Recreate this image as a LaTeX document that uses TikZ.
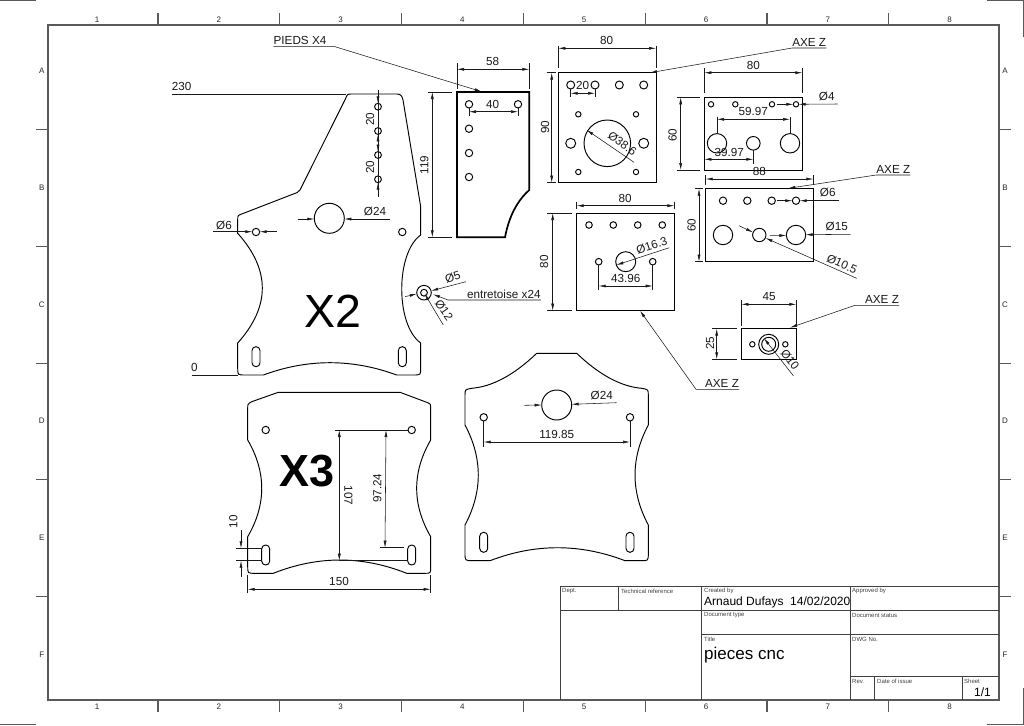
\documentclass[tikz,border=0pt]{standalone}
\usepackage{fontspec}
\setmainfont{Liberation Sans}
\usetikzlibrary{arrows.meta}
\tikzset{
  part/.style={line width=.95pt},
  heavy/.style={line width=1.7pt},
  frame/.style={line width=1.1pt, black!65},
  block/.style={line width=1pt, black!75},
  dim/.style={line width=.55pt, black!90, >={Latex[length=7pt,width=3pt]}},
  dimlab/.style={inner sep=0pt, font=\fontsize{11.7}{13}\selectfont, black!90},
  leadlab/.style={inner xsep=0pt, inner ysep=1.5pt, anchor=south, font=\fontsize{11.7}{13}\selectfont, black!90},
  zone/.style={inner sep=0pt, font=\fontsize{8}{9}\selectfont, black!85},
  tiny/.style={inner sep=0pt, anchor=west, font=\fontsize{6}{7}\selectfont, black!75},
  titletext/.style={inner sep=0pt, anchor=west}
}
\begin{document}
\begin{tikzpicture}[x=1pt, y=-1pt]
  \useasboundingbox (0,0) rectangle (1024,725);

  % sheet frame and zones
  \draw [frame] (48,25) rectangle (999,700);
  \foreach \i in {0,...,6} {
    \draw [frame] (158+121.8*\i,25) -- ++(0,-12);
    \draw [frame] (158+121.8*\i,700) -- ++(0,12);
  }
  \foreach \i in {0,...,4} {
    \draw [frame] (48,129.5+116.8*\i) -- ++(-12,0);
    \draw [frame] (999,129.5+116.8*\i) -- ++(12,0);
  }
  \foreach \l [count=\i from 0] in {1,...,8} {
    \node [zone] (top-\l) at (97+121.8*\i,19.3) {\l};
    \node [zone] (bottom-\l) at (97+121.8*\i,706.7) {\l};
  }
  \foreach \l [count=\i from 0] in {A,B,C,D,E,F} {
    \node [zone] (left-\l) at (41.7,71+116.7*\i) {\l};
    \node [zone] (right-\l) at (1005,71+116.7*\i) {\l};
  }
  \draw [frame] (0,.5) -- (36,.5);
  \draw [frame] (987,.5) -- (1023.5,.5) -- (1023.5,37);
  \draw [frame] (0,724.5) -- (36,724.5);
  \draw [frame] (987,724.5) -- (1023.5,724.5) -- (1023.5,688);

  % title block
  \draw [block] (560,700) -- (560,586) -- (999,586);
  \draw [block] (560,610.7) -- (999,610.7);
  \draw [block] (701.7,634.3) -- (999,634.3);
  \draw [block] (850,676.7) -- (999,676.7);
  \draw [block] (618,586) -- (618,610.7);
  \draw [block] (701.7,586) -- (701.7,700);
  \draw [block] (850,586) -- (850,700);
  \draw [block] (874,676.7) -- (874,700);
  \draw [block] (962.3,676.7) -- (962.3,700);
  \foreach \x/\y/\t [count=\i] in {562/591/Dept., 621/591/Technical reference,
      704/591/Created by, 852/591/Approved by, 704/615/Document type,
      852/615/Document status, 704/639/Title, 852/639/DWG No.,
      852/681/Rev., 877/681/Date of issue, 964/681/Sheet}
    \node [tiny] (field-\i) at (\x,\y) {\t};
  \node [titletext, font=\fontsize{12}{14}\selectfont] (author) at (704,602.5) {Arnaud Dufays\ \ 14/02/2020};
  \node [titletext, font=\fontsize{17}{19}\selectfont] (title) at (704,655) {pieces cnc};
  \node [titletext, font=\fontsize{12}{14}\selectfont] (sheet) at (974,692.5) {1/1};

  % plate X2
  \draw [part] (351.7,94) -- (396.7,94) .. controls (401,94) and (402,96) .. (403,100)
    -- (420.7,206.7) -- (420.7,235) .. controls (395.4,253) and (395.4,325) .. (420.7,343)
    -- (420.7,368.3) .. controls (420.7,375) .. (413,375) -- (396.7,375)
    .. controls (352.2,358.6) and (307.8,358.6) .. (263.3,375) -- (245,375)
    .. controls (237.7,375) .. (237.7,368.3) -- (237.7,343)
    .. controls (270.5,306.3) and (270.5,269.9) .. (237.7,233.3) -- (237.7,220)
    .. controls (237.7,215.5) .. (241.7,214) -- (297,192.6)
    .. controls (299,191.5) .. (300,190) -- (345.7,98.3)
    .. controls (347.5,94) .. (351.7,94);
  \foreach \y in {106.7,131,155,179.3}
    \draw [part] (378,\y) circle (3.4);
  \draw [part] (329.3,218.3) circle (15);
  \draw [part] (256,232) circle (3.7);
  \draw [part] (402.3,232) circle (3.7);
  \foreach \x in {256,402.3}
    \draw [part, rounded corners=3.9pt] (\x-4,346.7) rectangle (\x+4,366.7);
  \node [font=\fontsize{46.5}{48}\selectfont] (xtwo) at (333.3,311.7) {X2};

  % plate X3
  \draw [part] (278.3,392.3) -- (400,392.3) -- (426.7,402.3)
    .. controls (430.7,404) .. (430.7,408.3) -- (430.7,440)
    .. controls (412,472.2) and (412,504.5) .. (430.7,536.7) -- (430.7,566.7)
    .. controls (430.7,573.3) .. (425,573.3) -- (406.7,573.3)
    .. controls (362.2,555.6) and (317.8,555.6) .. (273.3,573.3) -- (255,573.3)
    .. controls (247.7,573.3) .. (247.7,566.7) -- (247.7,536.7)
    .. controls (266.4,504.5) and (266.4,472.2) .. (247.7,440) -- (247.7,408.3)
    .. controls (247.7,404) .. (251.7,401.7) -- cycle;
  \draw [part] (265.7,430) circle (3.7);
  \draw [part] (411.7,430) circle (3.7);
  \foreach \x in {265.7,411.7}
    \draw [part, rounded corners=3.9pt] (\x-4,545) rectangle (\x+4,565);
  \node [font=\bfseries\fontsize{45}{47}\selectfont] (xthree) at (307,471.5) {X3};

  % third plate
  \draw [part] (536.7,353.3) -- (576.7,353.3) .. controls (599.4,375) and (621.1,386.6) .. (641.7,388.3)
    .. controls (648.3,389.5) .. (648.3,395) -- (648.3,425)
    .. controls (630.6,458.3) and (630.6,491.7) .. (648.3,525) -- (648.3,553.3)
    .. controls (648.3,560.7) .. (641.7,560.7) -- (625,560.7)
    .. controls (580,543.4) and (535,543.4) .. (490,560.7) -- (472.7,560.7)
    .. controls (465,560.7) .. (465,553.3) -- (465,525)
    .. controls (482.7,491.7) and (482.7,458.3) .. (465,425) -- (465,395)
    .. controls (465,389.5) .. (471.7,388.3) .. controls (492.3,386.6) and (514,375) .. (536.7,353.3);
  \draw [part] (556.7,405) circle (15);
  \draw [part] (483.7,417.3) circle (3.7);
  \draw [part] (630,417.3) circle (3.7);
  \foreach \x in {483.7,630}
    \draw [part, rounded corners=3.9pt] (\x-4,532.3) rectangle (\x+4,552.3);

  % feet plate
  \draw [heavy] (457,92) -- (529.3,92) -- (529.3,190) .. controls (517,200.9) and (508.9,216.7) .. (505,237.3)
    -- (457,237.3) -- cycle;
  \foreach \x/\y in {469/104.3,518/104.3,469/128.7,469/153,469/177}
    \draw [part] (\x,\y) circle (3.7);

  % Z axis plates
  \draw [part] (558.3,72.7) rectangle (656,182.7);
  \foreach \x in {570.7,595,619.3,643.7}
    \draw [part] (\x,85) circle (4);
  \foreach \x/\y in {578.3/114.3,636/114.3,578.3/172,636/172}
    \draw [part] (\x,\y) circle (2.7);
  \draw [part] (570.7,143.3) circle (5);
  \draw [part] (643.7,143.3) circle (5);
  \draw [part] (607.3,143.3) circle (23.3);

  \draw [part] (704.3,97.3) rectangle (802.3,170);
  \foreach \x in {711,735.3,772,796}
    \draw [part] (\x,104.3) circle (2.7);
  \draw [part] (717,143.3) circle (9.7);
  \draw [part] (753.3,143.3) circle (6.8);
  \draw [part] (790,143.3) circle (9.7);

  \draw [part] (705.7,188.7) rectangle (813.3,261.7);
  \foreach \x in {723,747.3,771.7,796}
    \draw [part] (\x,200.7) circle (3.7);
  \draw [part] (723,235) circle (9.7);
  \draw [part] (759.3,235) circle (6.7);
  \draw [part] (796,235) circle (9.7);

  \draw [part] (576.7,213) rectangle (674.3,310.7);
  \foreach \x in {589,613.3,637.7,662.3}
    \draw [part] (\x,225) circle (3.3);
  \draw [part] (598.7,261.7) circle (3.3);
  \draw [part] (652.7,261.7) circle (3.3);
  \draw [part] (625.7,261.7) circle (10);

  \draw [part] (741.3,328.7) rectangle (796.3,359.3);
  \draw [part] (752.3,344.3) circle (2.7);
  \draw [part] (785.3,344.3) circle (2.7);
  \draw [part] (768.7,344.3) circle (10);
  \draw [part] (768.7,344.3) circle (7);

  % spacer
  \draw [part] (424,292.7) circle (7.3);
  \draw [part] (424,292.7) circle (3.4);

  % linear dimensions
  \foreach \ax/\ay/\bx/\by in {457/69.3/529.3/69.3, 469/111.7/518/111.7, 432.3/92/432.3/237.3,
      558.3/48.3/656/48.3, 551.7/72.7/551.7/182.7, 570.7/93.3/595/93.3,
      704.3/72.7/802.3/72.7, 680.7/97.3/680.7/170, 717/119.3/790/119.3,
      704.3/159.3/753.3/159.3, 705.7/179/813.3/179, 699/188.7/699/261.7,
      576.7/205.7/674.3/205.7, 552.7/213/552.7/310.7, 598.7/286/652.7/286,
      741.3/304.3/796.3/304.3, 716.7/328.7/716.7/359.3, 339.3/430/339.3/560.7,
      386/430/385/547.7, 247.7/589.3/430.7/589.3, 483.7/442/630/442}
    \draw [dim, <->] (\ax,\ay) -- (\bx,\by);

  % extension lines
  \foreach \ax/\ay/\bx/\by in {457/63.3/457/89, 529.3/63.3/529.3/89, 469/108/469/116, 518/108/518/116,
      428/92/451.7/92, 428/237.3/451.7/237.3,
      558.3/46/558.3/68.3, 656/46/656/68.3, 546.7/72.7/556/72.7, 546.7/182.7/556/182.7,
      570.7/89/570.7/97, 595/89/595/97,
      704.3/68.3/704.3/92.7, 802.3/68.3/802.3/92.7, 676.7/97.3/700/97.3, 676.7/170/700/170,
      717/117/717/133.6, 790/117/790/133.6, 753.3/150/753.3/164,
      705.7/175/705.7/185, 813.3/175/813.3/185, 695/188.7/703/188.7, 695/261.7/703/261.7,
      576.7/201.7/576.7/208.5, 674.3/201.7/674.3/208.5, 547.3/213/571.7/213, 547.3/310.7/571.7/310.7,
      598.7/265/598.7/290, 652.7/265/652.7/290,
      741.3/300/741.3/326, 796.3/300/796.3/326, 711.7/328.7/736.7/328.7, 711.7/359.3/736.7/359.3,
      335/430/408/430, 339.3/560.7/408/560.7, 380/547.7/404/547.7,
      247.7/575/247.7/593, 430.7/575/430.7/593,
      483.7/421/483.7/447, 630/421/630/447,
      236/548.3/261.7/548.3, 236/560.7/261.7/560.7,
      171.7/94/346/94, 191.7/375/238/375, 378/90/378/196.7}
    \draw [dim] (\ax,\ay) -- (\bx,\by);

  % arrows ending on a hole or an edge
  \foreach \ax/\ay/\bx/\by in {
      378/92/378/103.3, 378/146/378/134.4, 378/140/378/151.6, 378/194/378/182.7,
      213.3/231.7/252.3/231.7, 276.7/231.7/259.7/231.7,
      297.7/219/314.3/219, 390/219/344.3/219,
      405/296.7/416.8/293.8, 466/281.7/431.2/290.8,
      443.3/325/424.5/293.5,
      777.3/104.3/793.3/104.3, 837.7/104/798.7/104.3,
      777/200.7/792.3/200.7, 839/200.7/799.7/200.7,
      770/235.7/786.3/235.4, 850.7/234.3/805.7/234.7,
      739/225.7/753/232.3, 856.7/278.3/765.5/238,
      634/162.3/586.7/130,
      669.3/247.7/616.4/265, 793.3/375.7/764/338.3,
      524.3/405.3/541.7/405, 616.7/402.7/571.7/404.3,
      241/530/241/548.3, 241/577.3/241/560.7}
    \draw [dim, ->] (\ax,\ay) -- (\bx,\by);

  % leaders
  \node [leadlab] (pieds) at (300,46.7) {PIEDS X4};
  \coordinate (piedstip) at (481.7,91.7);
  \draw [dim, ->] (pieds.south west) -- (335,46.7) -- (piedstip);
  \node [leadlab] (entretoise) at (503.8,300) {entretoise x24};
  \coordinate (entretoisetip) at (433,294.3);
  \draw [dim, ->] (entretoise.south east) -- (entretoise.south west) -- (448,300) -- (entretoisetip);
  \node [leadlab] (axea) at (809.2,48) {AXE Z};
  \coordinate (axeatip) at (650,72.7);
  \draw [dim, ->] (axea.south east) -- (axea.south west) -- (axeatip);
  \node [leadlab] (axeb) at (893.3,175) {AXE Z};
  \coordinate (axebtip) at (788.3,188.3);
  \draw [dim, ->] (axeb.south east) -- (axeb.south west) -- (axebtip);
  \node [leadlab] (axec) at (722,389.3) {AXE Z};
  \coordinate (axectip) at (640,310.7);
  \draw [dim, ->] (axec.south east) -- (axec.south west) -- (696,389.3) -- (axectip);
  \node [leadlab] (axed) at (882,305.3) {AXE Z};
  \coordinate (axedtip) at (790,327.7);
  \draw [dim, ->] (axed.south east) -- (axed.south west) -- (855,305.3) -- (axedtip);

  % dimension texts
  \foreach \x/\y/\r/\t [count=\i] in {
      181.7/86.7/0/230, 194.3/367.3/0/0, 224/225.3/0/Ø6, 375/211/0/Ø24,
      370/119.3/90/20, 370/167.3/90/20, 424.3/165/90/119, 492.7/61.7/0/58, 492.7/104.3/0/40,
      452.7/277.3/18/Ø5, 444/310/-55/Ø12,
      606.7/40.7/0/80, 545/127.3/90/90, 582.7/85/0/20, 622.3/143.3/-36/Ø38.6,
      753.3/65/0/80, 672.7/135/90/60, 826.7/96/0/Ø4, 753.3/111.7/0/59.97, 729.3/152.3/0/39.97,
      759.3/171.7/0/88, 691.7/225/90/60, 827.7/192.7/0/Ø6, 836.7/226.7/0/Ø15, 842/264/-24/Ø10.5,
      625/198.3/0/80, 544/261.7/90/80, 651.7/246/18/Ø16.3, 625.7/278.3/0/43.96,
      769/296.7/0/45, 710/343.3/90/25, 790/359.3/-52/Ø10,
      348.3/495.7/-90/107, 377.3/488.3/90/97.24, 233.3/521.7/90/10, 339/581/0/150,
      601.7/395.7/0/Ø24, 556.7/434/0/119.85}
    \node [dimlab, rotate=\r] (dimlab-\i) at (\x,\y) {\t};
\end{tikzpicture}
\end{document}
